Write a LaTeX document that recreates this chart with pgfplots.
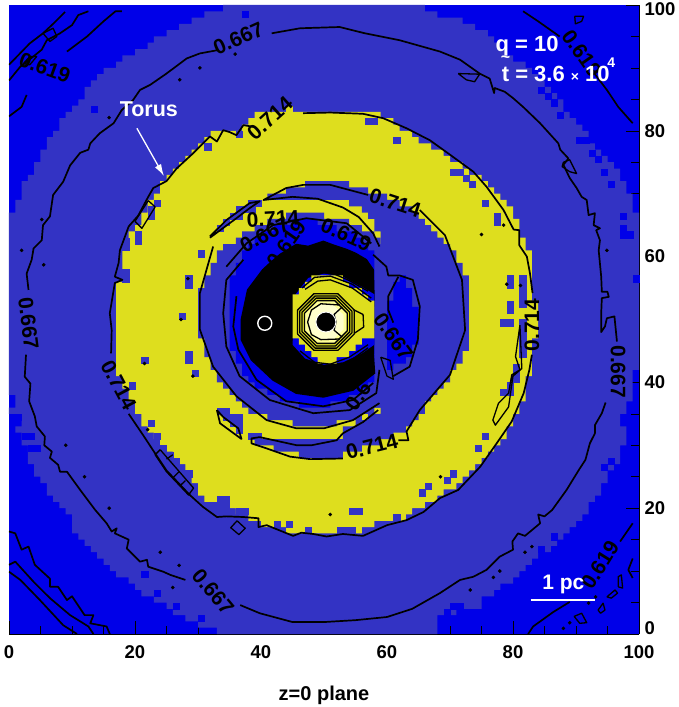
\documentclass[border=0pt]{standalone}
\usepackage{pgfplots}
\pgfplotsset{compat=1.18}
\usepackage{fontspec}
\setmainfont{Liberation Sans}
\usetikzlibrary{arrows.meta}
\definecolor{cblue}{RGB}{0,0,232}
\definecolor{cslate}{RGB}{51,51,196}
\definecolor{cyel}{RGB}{222,222,30}
\definecolor{clight}{RGB}{255,255,150}
\definecolor{clighter}{RGB}{255,255,205}
\pgfplotsset{
  row/.style={const plot mark right,draw=none,fill=#1,forget plot,mark=none},
  cells/.style={only marks,color=#1,mark=square*,mark size=3.1pt,mark options={draw=#1,fill=#1,line width=0.1pt},forget plot},
  cnt/.style={black,line width=1.7pt,mark=none,forget plot,line join=round},
  thin cnt/.style={black,line width=1.3pt,mark=none,forget plot,line join=round},
}
\newcommand{\lab}[4][black]{\node[text=#1,rotate=#4,font=\fontsize{21}{21}\bfseries\selectfont,inner sep=0pt] at (axis cs:#2) {#3};}
\begin{document}
\begin{tikzpicture}
\path[use as bounding box] (-9pt,-73pt) rectangle (669pt,634pt);
\begin{axis}[
  at={(0pt,0pt)},anchor=south west,
  width=630pt,height=629pt,scale only axis,
  xmin=0,xmax=100,ymin=0,ymax=100,
  axis x line*=bottom,axis y line*=right,
  xtick={0,20,40,60,80,100},ytick={0,20,40,60,80,100},
  yticklabels={\raisebox{0pt}[0pt][0pt]{0},20,40,60,80,\raisebox{-11pt}[0pt][0pt]{100}},
  minor tick num=3,tick align=inside,
  major tick length=13pt,minor tick length=8pt,
  tick style={black,line width=0.5pt},
  axis line style={line width=0.7pt},
  clip mode=individual,
  axis background/.style={fill=cblue},
  /pgf/number format/assume math mode=true,
  tick label style={font=\fontsize{18.5}{18.5}\bfseries\selectfont},
  xticklabel style={yshift=-8pt},
  yticklabel style={xshift=2pt},
  xlabel={z=0 plane},
  xlabel style={at={(axis description cs:0.5,-0.097)},anchor=center,font=\fontsize{20}{20}\bfseries\selectfont},
]
% slate disk
\addplot[row=cslate] coordinates {(68,0)(71,3)(75,4)(77,6)(78,7)(80,8)(81,9)(82,10)(83,11)(84,12)(86,13)(87,14)(88,15)(89,16)(90,17)(91,18)(92,19)(93,21)(94,22)(95,24)(96,26)(97,27)(98,30)(97,33)(98,35)(99,37)(100,42)(99,67)(98,70)(97,72)(96,74)(95,75)(94,76)(93,77)(92,78)(91,80)(90,81)(89,82)(88,83)(87,85)(86,86)(85,87)(84,88)(83,89)(82,90)(80,91)(79,92)(78,93)(77,94)(76,95)(74,96)(72,97)(68,98)(66,99)(66,100)
(34,100)(31,99)(29,98)(27,97)(25,96)(23,95)(22,94)(20,93)(18,92)(17,91)(15,90)(14,89)(13,88)(12,87)(11,85)(10,84)(9,83)(8,82)(7,80)(6,79)(5,77)(4,75)(3,73)(2,72)(1,69)(0,67)(1,38)(0,36)(1,35)(2,34)(1,33)(2,32)(3,30)(4,27)(5,25)(6,24)(7,22)(8,21)(9,20)(10,19)(11,16)(12,15)(13,14)(14,13)(15,12)(16,11)(17,10)(19,9)(20,8)(21,7)(23,6)(25,5)(26,4)(28,3)(30,2)(33,1)(33,0)} -- cycle;
% blue cells in the slate fringe
\addplot[cells=cblue] coordinates {(37.5,98.5)(13.5,83.5)(84.5,86.5)(85.5,85.5)(86.5,84.5)(87.5,82.5)(90.5,78.5)(91.5,78.5)(92.5,76.5)(93.5,75.5)(94.5,73.5)(95.5,71.5)(97.5,66.5)(97.5,64.5)(97.5,63.5)(98.5,63.5)(99.5,56.5)(95.5,27.5)(94.5,26.5)(21.5,9.5)(23.5,6.5)(26.5,4.5)(30.5,2.5)(86.5,15.5)(84.5,13.5)(70.5,4.5)(71.5,4.5)(69.5,3.5)(3.5,29.5)(4.5,29.5)(2.5,31.5)(3.5,31.5)(1.5,34.5)};
% yellow torus
\addplot[row=cyel] coordinates {(56,16)(58,17)(63,18)(64,19)(66,20)(68,21)(69,22)(71,23)(72,24)(73,25)(74,26)(75,27)(76,28)(77,29)(78,30)(79,31)(80,33)(81,35)(82,37)(83,41)(84,47)(83,52)(84,52)(83,53)(82,61)(81,63)(80,66)(79,68)(78,69)(77,70)(76,71)(75,72)(73,73)(72,74)(70,75)(69,76)(67,77)(65,78)(64,79)(62,80)(61,81)(59,82)(59,83)
(39,83)(38,82)(37,81)(32,80)(31,79)(30,78)(29,77)(28,76)(27,75)(26,74)(25,73)(24,72)(23,70)(22,69)(21,67)(20,65)(19,64)(18,62)(17,56)(18,41)(19,39)(20,37)(21,35)(22,33)(23,32)(24,31)(25,30)(26,29)(27,28)(28,27)(29,25)(30,24)(31,22)(34,21)(36,20)(38,19)(40,18)(44,17)(44,16)} -- cycle;
\addplot[cells=cyel] coordinates {(44.5,83.5)};
% slate crescent round the top, right and bottom
\addplot[row=cslate] coordinates {(53,28)(56,29)(59,30)(61,31)(63,32)(64,33)(65,34)(66,35)(67,37)(68,38)(69,39)(70,40)(71,42)(72,43)(73,45)(72,57)(71,59)(70,61)(69,62)(68,63)(67,64)(66,65)(65,66)(64,67)(62,68)(60,69)(57,70)(54,71)(54,72)
(47,72)(44,71)(41,70)(54,69)(56,68)(57,67)(58,66)(59,64)(60,62)(55,61)(59,36)(57,35)(55,34)(53,33)(39,31)(42,30)(46,29)(46,28)} -- cycle;
% inner slate disk
\addplot[row=cslate] coordinates {(52,33)(56,34)(58,35)(59,36)(60,38)(62,41)(60,60)(59,62)(58,63)(56,64)(54,65)(50,66)(50,67)
(44,67)(41,66)(39,65)(37,64)(36,63)(34,62)(33,61)(32,59)(31,57)(30,55)(31,47)(32,44)(33,42)(34,40)(35,39)(36,38)(37,37)(38,36)(41,35)(45,34)(45,33)} -- cycle;
% slate cells and slivers in the yellow
\addplot[cells=cslate] coordinates {(39.5,31.5)(38.5,31.5)(33.5,35.5)(34.5,35.5)(34.5,34.5)(35.5,34.5)(36.5,34.5)(35.5,33.5)(36.5,33.5)(36.5,32.5)(38.5,68.5)(39.5,68.5)(36.5,67.5)(37.5,67.5)(38.5,67.5)(35.5,66.5)(36.5,66.5)(34.5,65.5)(33.5,64.5)(23.5,68.5)(22.5,67.5)(22.5,66.5)(20.5,62.5)(20.5,63.5)(18.5,62.5)(18.5,61.5)(18.5,57.5)(18.5,56.5)(28.5,56.5)(28.5,55.5)(27.5,50.5)(28.5,44.5)(28.5,43.5)(21.5,43.5)(29.5,41.5)(19.5,39.5)(22.5,33.5)(23.5,31.5)(24.5,29.5)(25.5,28.5)(26.5,27.5)(28.5,25.5)(30.5,60.5)(31.5,77.5)(36.5,79.5)(57,81.5)(58,81.5)(61.5,78.5)(70.5,73.5)(71.5,73.5)(72.5,72.5)(73.5,71.5)(75.5,68.5)(77.5,66.5)(77.5,65.5)(79.5,56.5)(79.5,55.5)(81.5,56.5)(81.5,55.5)(81.5,54.5)(81.5,53.5)(81.5,52.5)(79.5,52.5)(79.5,51.5)(78.5,49.5)(79.5,49.5)(81.5,49.5)(81.5,48.5)(81.5,47.5)(81.5,46.5)(81.5,45.5)(81.5,44.5)(80.5,42.5)(80.5,41.5)(80.5,40.5)(78.5,38.5)(79.5,38.5)(79.5,39.5)(75.5,31.5)(74.5,29.5)(76.5,28.5)(75.5,27.5)(33.5,21.5)(34.5,21.5)(34.5,20.5)(36.5,19.5)(37.5,19.5)(54.5,19.5)(55.5,19.5)(65.5,22.5)(66.5,23.5)(70.5,25.5)(69.5,24.5)(47.5,16.5)(52.5,16.5)(53.5,16.5)(54.5,16.5)(44.5,17.5)(42.5,17.5)(61.5,18.5)};
% blue inner ring and the lens on the right
\addplot[row=cblue] coordinates {(51,36)(54,37)(56,38)(57,39)(58,40)(57,61)(56,62)(55,63)(52,64)(49,65)(49,66)
(45,66)(42,65)(40,64)(39,63)(38,62)(37,61)(36,59)(35,57)(36,45)(37,43)(38,41)(39,40)(41,39)(43,38)(46,37)(46,36)} -- cycle;
\addplot[row=cblue] coordinates {(61,42)(63,43)(64,44)(65,46)(64,52)(63,55)(63,57)(62,57)(61,56)(60,53)(60,42)} -- cycle;
% dense contours merged into black
\addplot[fill=black,draw=black,line width=1.7pt,forget plot,mark=none] coordinates {(36.9,50)(37.9,54.7)(38.5,55.5)(40.3,57.9)(41.5,59)(43,60.3)(45.6,61.9)(47.5,61.6)(49.9,62.4)(51.5,61.8)(53.6,61.1)(55,60.5)(56.7,59.5)(57.8,57.9)(57.9,53.9)(57.8,44.4)(58,41.5)(54.6,38.8)(52,38.2)(49.9,37.7)(45.6,38.3)(41.9,40.4)(38.5,43.6)(36.9,46.8)} -- cycle;
% bands at the edge of the black
\addplot[fill=cblue,draw=none,forget plot,mark=none] coordinates {(45.5,54)(47.5,56.6)(50,57.3)(53,56.8)(56,55.2)(58,54)(58,46)(56,44.6)(53,43.2)(50,42.8)(47,43.8)(45,46)} -- cycle;
% central yellow
\addplot[row=cyel] coordinates {(52,43)(54,44)(55,45)(56,46)(58,47)(57,53)(56,54)(54,55)(53,56)(53,57)
(48,57)(47,56)(46,55)(45,54)(46,47)(47,46)(48,45)(49,44)(49,43)} -- cycle;
% bright centre
\addplot[fill=clight,draw=none,forget plot,mark=none] coordinates {(53.8,51.05)(51.75,53.1)(48.85,53.1)(46.8,51.05)(46.8,48.15)(48.85,46.1)(51.75,46.1)(53.8,48.15)} -- cycle;
\addplot[fill=clighter,draw=none,forget plot,mark=none] coordinates {(53.1,50.75)(51.45,52.4)(49.15,52.4)(47.5,50.75)(47.5,48.45)(49.15,46.8)(51.45,46.8)(53.1,48.45)} -- cycle;
% octagonal contours
\addplot[thin cnt] coordinates {(54.8,51.5)(52.2,54.1)(48.4,54.1)(45.8,51.5)(45.8,47.7)(48.4,45.1)(52.2,45.1)(54.8,47.7)(54.8,51.5)};
\addplot[thin cnt] coordinates {(54.45,51.3)(52,53.75)(48.6,53.75)(46.15,51.3)(46.15,47.9)(48.6,45.45)(52,45.45)(54.45,47.9)(54.45,51.3)};
\addplot[thin cnt] coordinates {(54.1,51.15)(51.85,53.4)(48.75,53.4)(46.5,51.15)(46.5,48.05)(48.75,45.8)(51.85,45.8)(54.1,48.05)(54.1,51.15)};
\addplot[thin cnt] coordinates {(53.7,51)(51.7,53)(48.9,53)(46.9,51)(46.9,48.2)(48.9,46.2)(51.7,46.2)(53.7,48.2)(53.7,51)};
\addplot[thin cnt] coordinates {(52.5,52.3)(49.5,52.5)(48,51.5)(47.4,49.6)(48,47.6)(49.5,46.8)(52.5,46.9)};
\addplot[thin cnt] coordinates {(52.9,52)(51.6,50.8)(51.9,49.6)(51.6,48.3)(52.9,47.2)};
\addplot[thin cnt] coordinates {(54.6,51.6)(56.2,50.8)(56.3,48.8)(54.8,47.8)};
\addplot[thin cnt] coordinates {(45.8,55.5)(48,57.3)(51,57.5)(54,56.2)(57,54.5)};
\addplot[thin cnt] coordinates {(46.5,55)(48.5,56.7)(51,56.9)(54.5,55.6)(57.5,53.4)};
\addplot[thin cnt] coordinates {(47,54.8)(49,56.1)(51,56.3)(54.5,55)(57.5,52.8)};
\addplot[thin cnt] coordinates {(45.5,44.4)(48,42.5)(51,42.2)(54,43.3)(57,45.5)};
\addplot[thin cnt] coordinates {(46.2,45)(48.5,43.2)(51,42.9)(54,44)(57,46)};
% outer 0.667 contour
\addplot[cnt] coordinates {(33,92.8)(30.3,92.3)(28.2,91.5)(25,89.1)(22.4,87.3)(20.8,86.5)(19.7,84.9)(17.9,83.3)(16.6,81.2)(14.4,79.6)(12.9,78)(12.6,77)(11.3,76.5)(9.7,74.5)(8.6,71.9)(7,69.8)(6.5,66.4)(5.4,65)(5.2,62.6)(3.9,61.3)(3.6,59.5)(2.8,57.3)(3.1,54.7)};
\addplot[cnt] coordinates {(2.7,44.4)(2.5,40.9)(3.4,39.8)(3.2,37)(4.1,34.6)(4.4,33)(5.7,31.4)(5.6,30)(6.8,29)(6.5,28)(7.8,26.9)(8.1,25.8)(9.2,25.8)(11.3,22.9)(13.7,19.7)(15.5,17.6)(16.3,16.3)(17.1,16.8)(16.8,16)(19,15)(18.7,13.6)(20.8,11.5)(21.9,11.8)(22.1,10.7)(24.5,9.9)(25.6,9.4)(28,8.6)};
\addplot[cnt] coordinates {(36.7,4.6)(39.8,3.3)(45,1.9)(50,1.9)(55,2.2)(60,2.7)(64,4)(68.4,6.5)(71.6,8.6)(73.7,9.1)(75.8,10.2)(77.9,12.3)(80,13.4)(79.9,14.7)(80.8,16)(81.9,15.6)(84.3,17.6)(84,19)(85,18.7)(86.2,19.7)(88.5,22.9)(90.4,26)(91.5,27.7)(92.2,30.3)(93,31.9)(93,33.2)(94.1,35.1)(94.7,36.8)};
\addplot[cnt] coordinates {(96.5,46.5)(96.1,50.5)(94.9,50.2)(94.6,48.9)(94,48)(94,51)(94.1,53.4)(95.2,53.6)(95,54.4)(94.1,54.4)(94,56.8)(93.6,61)(93.8,62.6)(93.2,64.2)(93.8,64.5)(92.8,65)(93,66.9)(92,66.6)(91.7,69)(90.9,69.5)(90.1,70.9)(89,72.5)(88,74.6)(88.8,75.6)(87.5,77)(87.2,78)(84.3,81.2)(81.6,83.8)(80,85.2)(78.7,86.2)(77.1,86.8)(77,86)(76.3,88.3)(74.7,89.1)(71.6,91.3)(68.4,92.6)(62,94.4)(56.5,95.5)(52.5,96.5)(46.2,96.3)(41.7,95.5)};
% outer 0.714 contour
\addplot[cnt] coordinates {(46.7,82.8)(51,82.9)(56.2,82.7)(59.4,82)(63.1,80.4)(66.8,78.5)(70,76.2)(73.7,73.5)(75.8,71.1)(78.5,67.4)(80.1,64.3)(81,64.2)(81,61.8)(82.2,60)(82.7,57.3)(83.1,54.2)};
\addplot[cnt] coordinates {(83,44.4)(82.6,42)(81.7,38.3)(79.8,33.8)(77.4,30.3)(74.8,26.6)(71.3,22.9)(68.4,21.6)(65.8,19.4)(63.1,18.1)(60,17.3)(56.2,15.6)(53,15.9)(50.4,15.5)(48.3,15.9)(46.4,16.1)(45.1,15.6)(40.9,17.3)(39.6,17)(39.6,18.4)(37.2,18.6)(34.5,18.7)(33,18.6)(30.8,20.2)(28.7,22.1)(25,26)(23.2,28.7)(21.3,31.6)(19,35)};
\addplot[cnt] coordinates {(16.2,44.6)(16.3,48.3)(16,51)(16.8,55.8)(18,56.3)(16.8,56.8)(17.4,59)(17.6,61)(19,64.8)(20.5,66.5)(22.1,69.5)(22.9,70.9)(25,72)(26.6,74)(29.2,76.4)(31.9,79.1)(33,78.3)(34,80.1)(35,79.8)(36.1,79.3)(37.2,80.9)(39,80.6)};
% inner 0.714 contours
\addplot[cnt] coordinates {(57,69.8)(51,71.4)(46.7,71.4)(44,70.9)(40.4,69)(45,69.5)(49,69.2)(53,67.8)(55.5,66.3)(57.8,63.7)(58.8,61.6)};
\addplot[cnt] coordinates {(65.2,67.4)(69.2,63.4)(71.9,56.3)(72.4,48.3)(70,41.2)(65.2,35.6)(63.1,32.2)(63.4,30.8)(61.8,30.8)};
\addplot[cnt] coordinates {(53,27.9)(47.8,27.8)(44.6,28.2)(40.9,29.5)(38.5,30.3)(38.5,31.1)(39.8,31.3)(45.7,30)(48,30)(52,30.8)(53,31.9)(56.2,33.7)(58.6,35.6)};
\addplot[cnt] coordinates {(33,35.6)(33.5,33.5)(36.9,31)(36.4,32.7)(34,34.5)(33,35.6)};
\addplot[cnt] coordinates {(31.9,63.2)(34.5,65.8)(38.2,68.5)(39.8,68.8)(38.2,67.7)(36.1,66.1)(31.9,63)};
% rings round the inner disk
\addplot[cnt] coordinates {(32.4,61.6)(30.3,54.2)(30.3,48.4)(32.4,42.5)(36.1,37.8)(40.9,34)(45.6,32.7)(50,32.7)(54.6,34)(58.8,36.7)};
\addplot[cnt] coordinates {(37.2,59.5)(34.5,56.3)(34,51)(34.5,45.7)(36.6,41)(41.4,37.2)(48.3,35.1)(54.1,35.6)(58.3,38.3)(58.8,42)};
\addplot[cnt] coordinates {(36.1,53.7)(35.6,48.9)(36.4,45.2)(39.3,40.4)(44,37)(49.9,36.2)(54.6,37.2)(57.8,39.9)};
\addplot[cnt] coordinates {(34.5,58.4)(37.7,62.1)(41.9,65)(47.2,66.1)(53.6,65.3)(57.5,62.1)};
\addplot[cnt] coordinates {(57.8,60.3)(59.9,58.4)(60.2,57)(62,57)(64.1,56.3)(65.2,52.1)(64.9,46.8)(63.6,42.5)(61,41)};
\addplot[cnt] coordinates {(61.8,56.8)(60.2,53.7)(60.2,51.5)(61,49.5)};
\addplot[thin cnt] coordinates {(59,44)(60.5,43.5)(61,40.5)(60,41)(59,44)};
% corner contours
\addplot[cnt] coordinates {(0,90.5)(3.3,93.9)(5.4,95.5)(7,97)(8.9,98.9)};
\addplot[cnt] coordinates {(0,88)(1.8,90.2)(4.1,92)(5.2,92.9)(6,94.4)(8.1,95.5)(10,96.8)(11,98.4)(12.6,99)};
\addplot[cnt] coordinates {(9.2,92.6)(12.4,95)(15,97.4)(16.9,99)(17.9,99)};
\addplot[cnt] coordinates {(0,82.3)(2,83.8)(2.8,85.7)};
\addplot[cnt] coordinates {(0,16.3)(1,16)(2,13.4)(3.1,13.9)(4.1,11)(6.5,8.8)(6.5,7.5)(7.8,7.5)(9.2,5.4)(10,6)(12,3)(13.4,3)(12.9,1.7)(15.5,1.2)(16,0)};
\addplot[cnt] coordinates {(0,11)(1,11.5)(3.9,8.3)(6.5,5.7)(9.7,3)(12.6,1.2)(13.4,0)};
\addplot[cnt] coordinates {(0,9.9)(1.8,8.6)(4.9,5.4)(8.6,1.4)(10.8,0)};
\addplot[cnt] coordinates {(82.4,0)(83.2,1.2)(86.4,3.5)(89,5.1)};
\addplot[cnt] coordinates {(97,14.7)(99,17.6)};
\addplot[cnt] coordinates {(99,12)(98.3,10.2)(99,8.9)};
\addplot[cnt] coordinates {(81.6,99)(84,97.4)(87.4,95)};
\addplot[cnt] coordinates {(93,89)(94.9,86.5)(96.7,83.8)(99,81.2)};
% small loops
\addplot[thin cnt] coordinates {(22.1,68.9)(23.2,67.9)(21.1,64.5)(20,65.6)(22.1,68.9)};
\addplot[thin cnt] coordinates {(24,29.3)(29.3,23.2)(28.5,22.1)(25,25.8)(23.2,28.5)(24,29.3)};
\addplot[thin cnt] coordinates {(25,27.8)(26,28.5)};
\addplot[thin cnt] coordinates {(26,24.8)(27,25.8)};
\addplot[thin cnt] coordinates {(27.1,23.5)(28,24.4)};
\addplot[thin cnt] coordinates {(81.1,49.1)(80.4,44.1)(81.1,42)(79.8,41.2)(79.3,38.3)(77.7,36.7)(76.8,34)(77.2,33.2)(79.3,36.1)(80,41)(81.4,42.2)(81.1,49.1)};
\addplot[thin cnt] coordinates {(88,75)(89,75.4)(90.1,73.2)(89,73.5)(87.8,74.3)(88,75)};
\addplot[thin cnt] coordinates {(89.7,2.8)(90.9,3.3)(91.7,1.8)(90.6,1.7)(89.7,2.8)};
\addplot[thin cnt] coordinates {(93.5,3.8)(94.3,4.9)(94.6,3.8)(93.9,3.3)(93.5,3.8)};
\addplot[thin cnt] coordinates {(94.9,5.9)(96.2,7)(96.6,6.5)(95.6,5.7)(94.9,5.9)};
\addplot[thin cnt] coordinates {(96.7,7.5)(96.7,9.1)(97.2,9.4)(97.4,7.3)(96.7,7.5)};
\addplot[thin cnt] coordinates {(5.4,95.5)(7,96.3)(7.6,95)(6.5,94.2)(5.4,95.5)};
\addplot[thin cnt] coordinates {(3.3,91.8)(4.4,91.8)(3.3,90.5)(2.3,90.7)(3.3,91.8)};
\addplot[thin cnt] coordinates {(89.8,98.2)(91.2,98.2)(90.9,97.4)(89.9,97)(89.8,98.2)};
\addplot[thin cnt] coordinates {(71.3,89.1)(74.7,89)(73.9,87.8)(72.6,88.1)(71.3,89.1)};
\addplot[thin cnt] coordinates {(36.2,18)(37.5,16.8)(36.5,15.8)(35.2,16.9)(36.2,18)};
\addplot[only marks,mark=*,mark size=1.6pt,color=black,mark options={fill=black,draw=black},forget plot] coordinates {(27.1,88.1)(30.3,90)(35.9,92.2)(15.9,82.1)(15.9,20)(24,13)(27,10.9)(26,7.4)(5.2,65.9)(2,61)(5.5,58.7)(9,30)(12,25)(76.9,9)(77.9,10)(73.2,7)(83,13.9)(81.9,13)(92,4.9)(93.1,5.9)(89,1.8)(88,0.9)(94.9,61)(28.4,56.5)(27.3,50)(21.5,43)(29.2,41)(22,32.5)(51,19)(68.5,25)(75,63.5)(78.5,65)(79,55.6)(81.2,55.4)};
% black holes
\addplot[only marks,mark=*,mark size=10pt,color=black,mark options={fill=black,draw=white,line width=0.9pt},forget plot] coordinates {(50.3,49.6)};
\addplot[only marks,mark=*,mark size=7pt,color=black,mark options={fill=black,draw=white,line width=1.4pt},forget plot] coordinates {(40.6,49.4)};
% contour labels
\lab{36.4,94.7}{0.667}{24}
\lab{5.7,90}{0.619}{-20}
\lab{90.9,92.3}{0.619}{-55}
\lab{41.4,82}{0.714}{42}
\lab{61.3,68.5}{0.714}{-18}
\lab{41.9,66}{0.714}{3}
\lab{40.6,63.5}{0.667}{28}
\lab{53.5,63.5}{0.619}{-24}
\lab{44,62}{0.619}{55}
\lab{3.1,49.4}{0.667}{-83}
\lab{17.4,39.6}{0.714}{-62}
\lab{32.4,6.7}{0.667}{-50}
\lab{57.6,29.8}{0.714}{14}
\lab{83,49.1}{0.714}{90}
\lab{96.7,41.7}{0.667}{-90}
\lab{93.8,11}{0.619}{58}
\lab{61,47.3}{0.667}{-55}
\lab{55.4,37.8}{0.6}{55}
% white annotations
\node[text=white,font=\fontsize{21.5}{21.5}\bfseries\selectfont,inner sep=0pt] at (axis cs:22.2,83.5) {Torus};
\draw[white,line width=1.3pt,-{Latex[length=12pt,width=7pt]}] (axis cs:20.3,80.4) -- (axis cs:24.6,72.8);
\node[text=white,font=\fontsize{22}{22}\bfseries\selectfont,inner sep=0pt,anchor=west] at (axis cs:77.2,93.5) {q = 10};
\node[text=white,font=\fontsize{22}{22}\bfseries\selectfont,inner sep=0pt,anchor=west] at (axis cs:78.2,89) {t = 3.6 {\fontsize{14}{14}\selectfont ×} 10};
\node[text=white,font=\fontsize{14}{14}\bfseries\selectfont,inner sep=0pt] at (axis cs:95.6,90.8) {4};
\node[text=white,font=\fontsize{16}{16}\bfseries\selectfont,inner sep=0pt] at (axis cs:78.8,91.3) {\textasciitilde};
\node[text=white,font=\fontsize{21}{21}\bfseries\selectfont,inner sep=0pt] at (axis cs:88,7.9) {1 pc};
\draw[white,line width=2.8pt] (axis cs:82.8,5.4) -- (axis cs:93,5.4);
\end{axis}
\end{tikzpicture}
\end{document}
